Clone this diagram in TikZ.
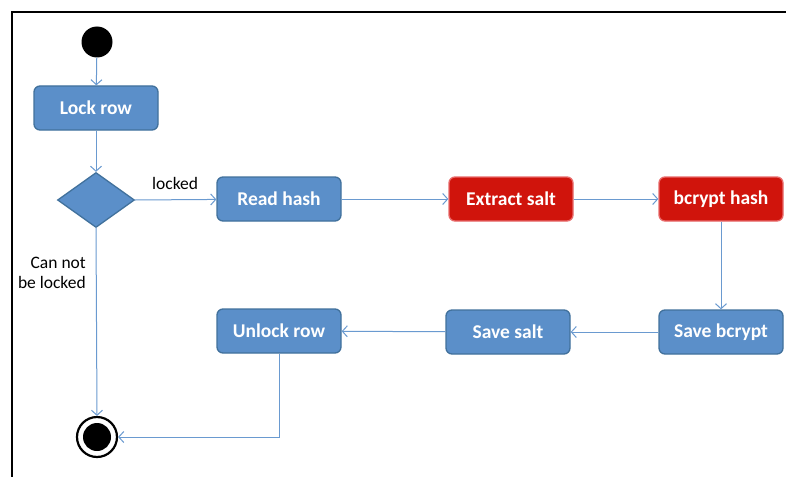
\documentclass[tikz,border=0pt]{standalone}
\usepackage{fontspec}
\setmainfont{Carlito}
\usetikzlibrary{shapes.geometric,arrows.meta}
\definecolor{boxblue}{HTML}{5B8FC9}
\definecolor{boxblueedge}{HTML}{41719C}
\definecolor{boxred}{HTML}{D0140C}
\definecolor{boxrededge}{HTML}{E86A6A}
\definecolor{linkblue}{HTML}{6A9AD0}
\tikzset{
  x=1pt,y=-1pt,
  actbox/.style={draw=boxblueedge,fill=boxblue,line width=1.3pt,rounded corners=6pt,
    minimum width=124pt,minimum height=44pt,inner sep=0pt,text=white,font=\fontsize{19.5}{22}\selectfont\bfseries},
  redbox/.style={actbox,draw=boxrededge,fill=boxred},
  link/.style={draw=linkblue,line width=1pt,-{Straight Barb[length=5pt,width=11pt,line width=1pt]}},
  lbl/.style={font=\fontsize{17.5}{20.5}\selectfont,text=black,inner sep=0pt}
}
\begin{document}
\begin{tikzpicture}
\useasboundingbox (0,0) rectangle (786,476);
\fill[white] (0,0) rectangle (786,476);
\draw[line width=2pt,black] (12,477) -- (12,12) -- (787,12);
\node[circle,fill=black,minimum size=31pt,inner sep=0pt] (start) at (97,42) {};
\node[actbox] (lock) at (96,108) {Lock row};
\node[diamond,draw=boxblueedge,fill=boxblue,line width=1.3pt,minimum width=77pt,minimum height=55pt,inner sep=0pt,aspect=1.4] (dec) at (96,200) {};
\node[actbox] (read) at (279,199) {Read hash};
\node[redbox] (extract) at (511,199) {Extract salt};
\node[redbox] (bhash) at (721,199) {bcrypt hash};
\node[actbox] (savebc) at (721,332) {Save bcrypt};
\node[actbox] (savesalt) at (508,332) {Save salt};
\node[actbox] (unlock) at (279,331) {Unlock row};
\node[circle,draw=black,line width=2.2pt,fill=white,minimum size=40pt,inner sep=0pt] (end) at (97,437) {};
\node[circle,fill=black,minimum size=28pt,inner sep=0pt] (endin) at (97,437) {};
\node[lbl,anchor=south west] (lockedlbl) at (152,190) {locked};
\node[lbl,align=right,anchor=east] (cannot) at (86,273) {Can not\\be locked};
\draw[link] (start) -- (lock);
\draw[link] (lock) -- (dec.north);
\draw[link] (dec.east) -- (read);
\draw[link] (read) -- (extract);
\draw[link] (extract) -- (bhash);
\draw[link] (bhash) -- (savebc);
\draw[link] (savebc) -- (savesalt);
\draw[link] (savesalt) -- (unlock);
\draw[link] (dec.south) -- (end.north);
\draw[link] (unlock.south) |- (end.east);
\end{tikzpicture}
\end{document}
